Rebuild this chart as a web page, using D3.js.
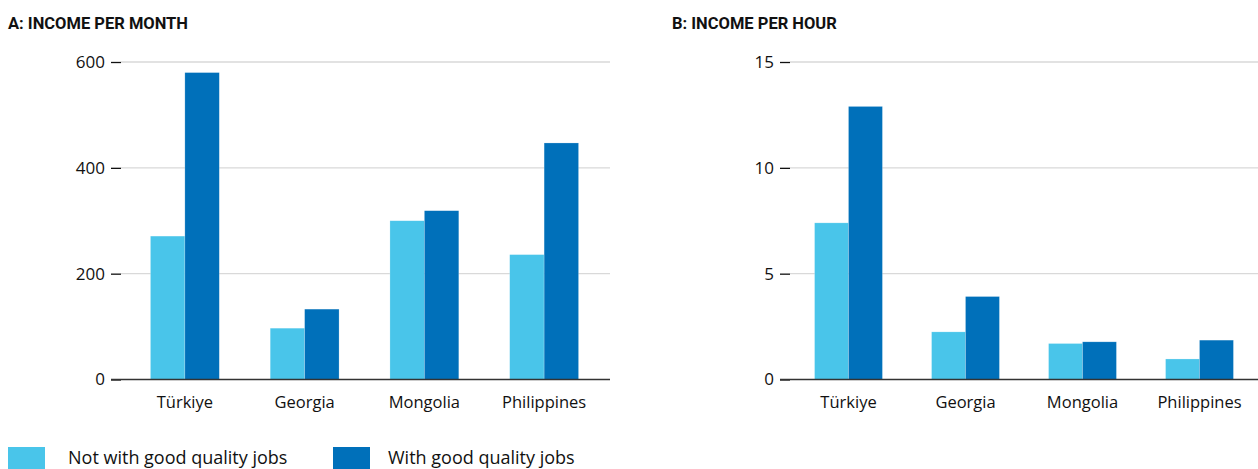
<!DOCTYPE html>
<html>
<head>
<meta charset="utf-8">
<script src="https://cdn.jsdelivr.net/npm/d3@7"></script>
<style>
  body { margin: 0; background: #fff; }
  svg { display: block; }
</style>
</head>
<body>
<div id="chart"></div>
<script>
// Data
const countries = ["Türkiye", "Georgia", "Mongolia", "Philippines"];
const seriesNames = ["Not with good quality jobs", "With good quality jobs"];
const monthNotGood = [271, 97, 300, 236];
const monthGood = [580, 133, 319, 447];
const hourNotGood = [7.4, 2.25, 1.7, 0.97];
const hourGood = [12.9, 3.92, 1.78, 1.86];
const monthTicks = [0, 200, 400, 600];
const hourTicks = [0, 5, 10, 15];

// Configuration
const width = 1258;
const height = 469;
const color = d3.scaleOrdinal().domain(seriesNames).range(["#49c5ea", "#0070ba"]);
const tickFont = "'Open Sans', sans-serif";

const svg = d3.select("#chart")
    .append("svg")
    .attr("width", width)
    .attr("height", height)
    .attr("viewBox", [0, 0, width, height]);

// Draw one panel of grouped bars
const drawPanel = (opts) => {
    const { title, titleX, left, xStart, xEnd, domainMax, ticks, seriesA, seriesB, padding } = opts;
    const y = d3.scaleLinear().domain([0, domainMax]).range([379.5, 62]);
    const x0 = d3.scaleBand()
        .domain(countries)
        .range([xStart, xEnd])
        .paddingInner(padding)
        .paddingOuter(padding / 2);
    const x1 = d3.scaleBand().domain(seriesNames).range([0, x0.bandwidth()]);

    const g = svg.append("g");

    g.append("text")
        .attr("x", titleX)
        .attr("y", 29)
        .style("font-family", "Roboto, sans-serif")
        .style("font-weight", "700")
        .style("font-size", "16.5px")
        .style("fill", "#111")
        .text(title);

    // Gridlines
    g.append("g")
        .selectAll("line")
        .data(ticks.filter(t => t !== 0))
        .join("line")
        .attr("x1", left)
        .attr("x2", opts.gridEnd)
        .attr("y1", d => y(d))
        .attr("y2", d => y(d))
        .attr("stroke", "#d9d9d9")
        .attr("stroke-width", 1.3);

    // Y axis (ticks + labels only)
    const yAxis = g.append("g")
        .attr("transform", `translate(${left},0)`)
        .call(d3.axisLeft(y).tickValues(ticks).tickSize(10).tickPadding(6));
    yAxis.select(".domain").remove();
    yAxis.selectAll(".tick line").attr("stroke", "#111").attr("stroke-width", 1.3);
    yAxis.selectAll(".tick text")
        .style("font-family", tickFont)
        .style("font-size", "17px")
        .style("fill", "#111");

    // Bars
    const rows = countries.map((c, i) => ({ country: c, values: [seriesA[i], seriesB[i]] }));
    g.append("g")
        .selectAll("g")
        .data(rows)
        .join("g")
        .attr("transform", d => `translate(${x0(d.country)},0)`)
        .selectAll("rect")
        .data(d => d.values.map((v, j) => ({ key: seriesNames[j], value: v })))
        .join("rect")
        .attr("x", d => x1(d.key))
        .attr("width", x1.bandwidth())
        .attr("y", d => y(d.value))
        .attr("height", d => y(0) - y(d.value))
        .attr("fill", d => color(d.key))
        .attr("stroke", "#ffffff")
        .attr("stroke-opacity", 0.35)
        .attr("stroke-width", 0.6);

    // Zero baseline
    g.append("line")
        .attr("x1", left - 10)
        .attr("x2", opts.gridEnd)
        .attr("y1", y(0))
        .attr("y2", y(0))
        .attr("stroke", "#333")
        .attr("stroke-width", 1.6);

    // X axis labels
    const xAxis = g.append("g")
        .attr("transform", `translate(0,${y(0)})`)
        .call(d3.axisBottom(x0).tickSize(0).tickPadding(17));
    xAxis.select(".domain").remove();
    xAxis.selectAll(".tick text")
        .style("font-family", tickFont)
        .style("font-size", "16.5px")
        .style("fill", "#111");
};

drawPanel({
    title: "A: INCOME PER MONTH",
    titleX: 8,
    left: 121,
    xStart: 125,
    xEnd: 604,
    gridEnd: 610,
    domainMax: 600,
    ticks: monthTicks,
    seriesA: monthNotGood,
    seriesB: monthGood,
    padding: 0.425
});

drawPanel({
    title: "B: INCOME PER HOUR",
    titleX: 672,
    left: 790,
    xStart: 790,
    xEnd: 1258,
    gridEnd: 1258,
    domainMax: 15,
    ticks: hourTicks,
    seriesA: hourNotGood,
    seriesB: hourGood,
    padding: 0.42
});

// Legend
const legend = svg.append("g")
    .selectAll("g")
    .data(seriesNames)
    .join("g")
    .attr("transform", (d, i) => `translate(${i === 0 ? 8 : 333},0)`);

legend.append("rect")
    .attr("x", 0)
    .attr("y", 447)
    .attr("width", 37)
    .attr("height", 26)
    .attr("fill", d => color(d));

legend.append("text")
    .attr("x", (d, i) => i === 0 ? 60 : 55)
    .attr("y", 464)
    .style("font-family", tickFont)
    .style("font-size", "18px")
    .style("fill", "#111")
    .text(d => d);
</script>
</body>
</html>
